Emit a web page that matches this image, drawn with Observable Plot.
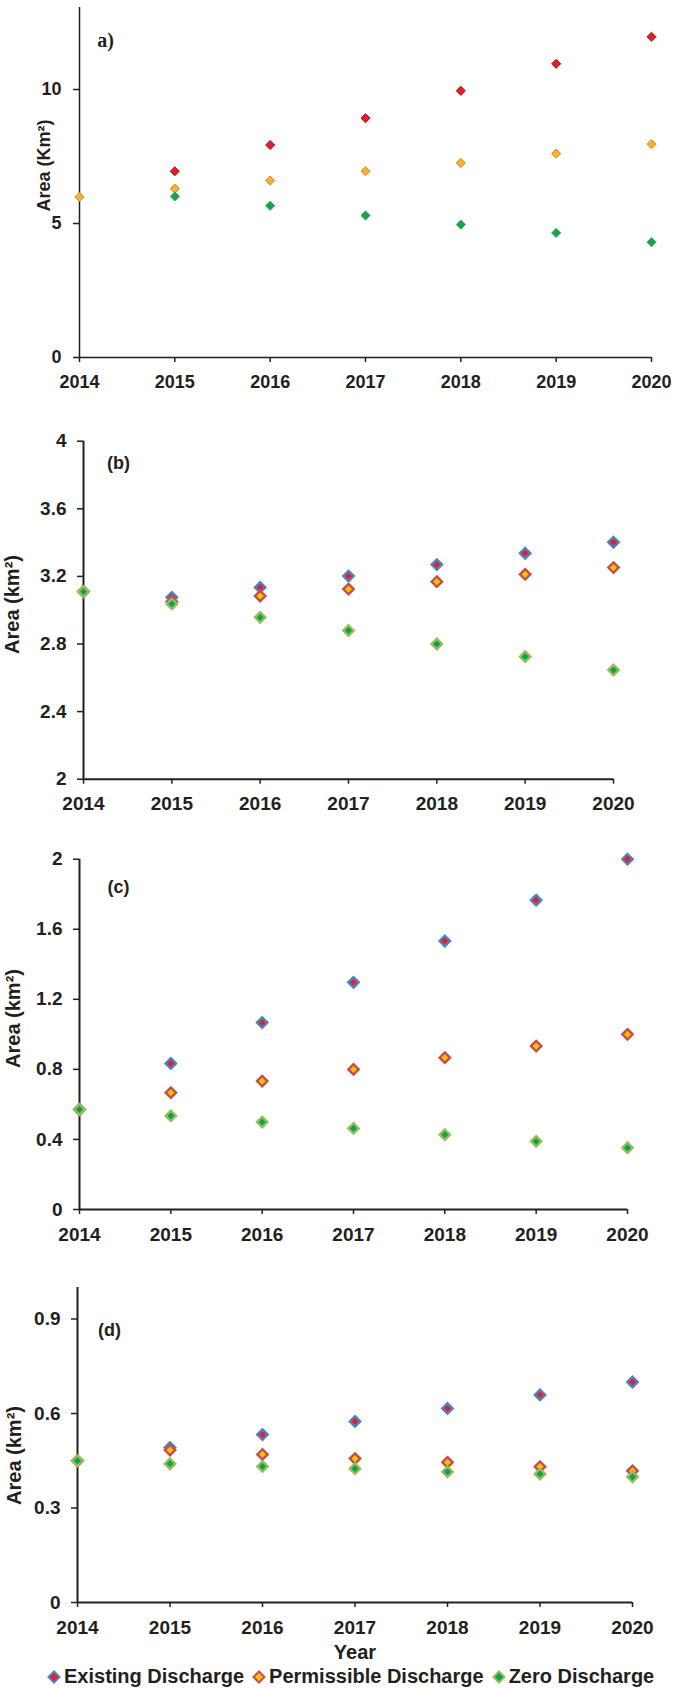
<!DOCTYPE html>
<html>
<head>
<meta charset="utf-8">
<script src="https://cdn.jsdelivr.net/npm/d3@7"></script>
<script src="https://cdn.jsdelivr.net/npm/@observablehq/plot@0.6"></script>
<style>
  body { margin: 0; background: #fff; }
  #root { position: relative; width: 685px; height: 1689px; background: #fff; font-family: "Liberation Sans", Arial, sans-serif; color: #231f20; }
  .panel { position: absolute; left: 0; }
  #year { position: absolute; left: 0; width: 710px; text-align: center; top: 1641px; font: bold 20px "Liberation Sans", Arial, sans-serif; }
  #legend { position: absolute; left: 47px; top: 1665px; display: flex; align-items: center; font: bold 20px "Liberation Sans", Arial, sans-serif; white-space: nowrap; }
  #legend .item { display: flex; align-items: center; margin-right: 8px; }
  #legend svg { margin-right: 3px; }
</style>
</head>
<body>
<div id="root"></div>
<script>
// ---- data ----
const years = [2014, 2015, 2016, 2017, 2018, 2019, 2020];
const seriesNames = ["Existing Discharge", "Permissible Discharge", "Zero Discharge"];

// panel a
const aExisting    = [null, 6.95, 7.93, 8.93, 9.95, 10.96, 11.97];
const aPermissible = [5.99, 6.30, 6.60, 6.95, 7.26, 7.61, 7.96];
const aZero        = [null, 6.01, 5.66, 5.30, 4.96, 4.65, 4.30];
const aTicks = [0, 5, 10];

// panel b
const bExisting    = [3.11, 3.076, 3.135, 3.202, 3.270, 3.337, 3.402];
const bPermissible = [3.11, 3.050, 3.084, 3.125, 3.169, 3.212, 3.252];
const bZero        = [3.11, 3.037, 2.958, 2.880, 2.800, 2.725, 2.646];
const bTicks = [2, 2.4, 2.8, 3.2, 3.6, 4];

// panel c
const cExisting    = [0.571, 0.834, 1.067, 1.297, 1.533, 1.766, 2.0];
const cPermissible = [0.571, 0.667, 0.733, 0.800, 0.867, 0.933, 1.0];
const cZero        = [0.571, 0.535, 0.499, 0.463, 0.427, 0.389, 0.352];
const cTicks = [0, 0.4, 0.8, 1.2, 1.6, 2];

// panel d
const dExisting    = [0.45, 0.492, 0.533, 0.575, 0.616, 0.659, 0.700];
const dPermissible = [0.45, 0.484, 0.470, 0.457, 0.445, 0.431, 0.418];
const dZero        = [0.45, 0.4405, 0.432, 0.425, 0.415, 0.408, 0.399];
const dTicks = [0, 0.3, 0.6, 0.9];

// ---- styles ----
const INK = "#231f20";
const FONT = "'Liberation Sans', Arial, sans-serif";
const styleA = [
  {fill: "#e21f26", stroke: "#a3141b", strokeWidth: 1, r: 4.1},
  {fill: "#f9b233", stroke: "#d7831f", strokeWidth: 1, r: 4.1},
  {fill: "#16a34a", stroke: "#3aa75a", strokeWidth: 1, r: 4.1}
];
const styleB = [
  {fill: "#e3202b", stroke: "#4f81bd", strokeWidth: 2.4, r: 4.7},
  {fill: "#ffc000", stroke: "#c0504d", strokeWidth: 2.4, r: 4.7},
  {fill: "#00a651", stroke: "#9bbb59", strokeWidth: 2.4, r: 4.7}
];

function rows(values) {
  return years.map((year, i) => ({year, value: values[i]})).filter(d => d.value != null);
}

const panels = [
  {series: [aExisting, aPermissible, aZero], ticks: aTicks, domain: [0, 13.06],
   svgTop: 0, h: 398, xL: 79, xR: 651, yTop: 7, yBot: 357,
   label: "Area (Km²)", labelX: 44, labelY: 165, labelSize: 18,
   title: "a)", titleX: 105, titleY: 40, titleFont: "'Liberation Serif', 'Times New Roman', serif", titleSize: 20,
   tickFont: 18, xPad: 13, yPad: 12, mark: styleA, axisW: 1.5},
  {series: [bExisting, bPermissible, bZero], ticks: bTicks, domain: [2, 4],
   svgTop: 400, h: 415, xL: 83, xR: 613, yTop: 440.7, yBot: 778.7,
   label: "Area (km²)", labelX: 12, labelY: 604, labelSize: 20,
   title: "(b)", titleX: 118, titleY: 463, titleFont: FONT, titleSize: 18,
   tickFont: 19, xPad: 12, yPad: 11, mark: styleB, axisW: 2},
  {series: [cExisting, cPermissible, cZero], ticks: cTicks, domain: [0, 2],
   svgTop: 820, h: 425, xL: 79, xR: 627, yTop: 858.7, yBot: 1209,
   label: "Area (km²)", labelX: 13.5, labelY: 1018, labelSize: 20,
   title: "(c)", titleX: 118, titleY: 887, titleFont: FONT, titleSize: 18,
   tickFont: 19, xPad: 12.5, yPad: 11, mark: styleB, axisW: 2},
  {series: [dExisting, dPermissible, dZero], ticks: dTicks, domain: [0, 1],
   svgTop: 1245, h: 400, xL: 77, xR: 632, yTop: 1287, yBot: 1602,
   label: "Area (km²)", labelX: 14.5, labelY: 1455, labelSize: 20,
   title: "(d)", titleX: 109, titleY: 1330, titleFont: FONT, titleSize: 18,
   tickFont: 19, xPad: 12.5, yPad: 11, mark: styleB, axisW: 2}
];

const root = document.getElementById("root");

for (const p of panels) {
  const marginTop = p.yTop - p.svgTop;
  const marginBottom = p.svgTop + p.h - p.yBot;
  const marginLeft = p.xL;
  const marginRight = 685 - p.xR;
  const midY = (p.yTop + p.yBot) / 2;
  const chart = Plot.plot({
    width: 685,
    height: p.h,
    marginTop, marginBottom, marginLeft, marginRight,
    style: `font-family: ${FONT}; font-size: ${p.tickFont}px; font-weight: bold; color: ${INK}; background: transparent; overflow: visible;`,
    x: {domain: [2014, 2020]},
    y: {domain: p.domain},
    marks: [
      Plot.axisX({ticks: years, tickFormat: d => String(d), tickSize: 5, tickPadding: p.xPad, strokeWidth: 1.5, label: null}),
      Plot.axisY({ticks: p.ticks, tickFormat: d => String(+d.toFixed(2)), tickSize: 6, tickPadding: p.yPad, strokeWidth: 1.5, label: null}),
      Plot.ruleX([2014], {stroke: INK, strokeWidth: p.axisW}),
      Plot.ruleY([p.domain[0]], {stroke: INK, strokeWidth: p.axisW}),
      ...p.series.map((vals, i) => Plot.dot(rows(vals), {
        x: "year", y: "value", symbol: "diamond2",
        r: p.mark[i].r, fill: p.mark[i].fill, stroke: p.mark[i].stroke, strokeWidth: p.mark[i].strokeWidth
      })),
      Plot.text([p.label], {frameAnchor: "left", text: d => d, rotate: -90,
        dx: p.labelX - p.xL, dy: p.labelY - midY,
        fontSize: p.labelSize, fontWeight: "bold", fill: INK, textAnchor: "middle", lineAnchor: "middle"}),
      Plot.text([p.title], {frameAnchor: "top-left", text: d => d,
        dx: p.titleX - p.xL, dy: p.titleY - p.yTop,
        fontSize: p.titleSize, fontWeight: "bold", fontFamily: p.titleFont, fill: INK,
        textAnchor: "middle", lineAnchor: "middle"})
    ]
  });
  const svg = d3.select(chart.tagName.toLowerCase() === "svg" ? chart : chart.querySelector("svg"));
  const texts = svg.selectAll("text");
  texts.style("font-family", FONT).style("font-weight", "bold").style("font-size", p.tickFont + "px").style("fill", INK);
  texts.filter(function() { return this.textContent === p.label; }).style("font-size", p.labelSize + "px");
  texts.filter(function() { return this.textContent === p.title; }).style("font-size", p.titleSize + "px").style("font-family", p.titleFont);
  const wrap = document.createElement("div");
  wrap.className = "panel";
  wrap.style.top = p.svgTop + "px";
  wrap.appendChild(chart);
  root.appendChild(wrap);
}

// x axis title
const yearDiv = document.createElement("div");
yearDiv.id = "year";
yearDiv.textContent = "Year";
root.appendChild(yearDiv);

// legend
const legend = document.createElement("div");
legend.id = "legend";
seriesNames.forEach((name, i) => {
  const item = document.createElement("div");
  item.className = "item";
  const s = styleB[i];
  item.innerHTML = `<svg width="14" height="14" viewBox="-7 -7 14 14"><path d="M0,-5.5L5.5,0L0,5.5L-5.5,0Z" fill="${s.fill}" stroke="${s.stroke}" stroke-width="2"/></svg><span>${name}</span>`;
  legend.appendChild(item);
});
root.appendChild(legend);
</script>
</body>
</html>
